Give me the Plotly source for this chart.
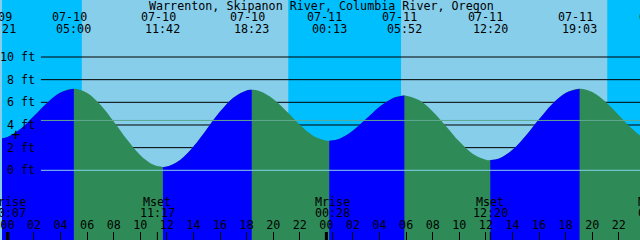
import plotly.graph_objects as go
from datetime import datetime

TITLE = "Warrenton, Skipanon River, Columbia River, Oregon"
BASE = datetime(2024, 7, 10)

# Tide extremes (date, time, height ft)
ext_dates = ["07-09", "07-10", "07-10", "07-10", "07-11", "07-11", "07-11", "07-11", "07-12"]
ext_times = ["23:21", "05:00", "11:42", "18:23", "00:13", "05:52", "12:20", "19:03", "01:12"]
ext_heights = [2.8, 7.2, 0.3, 7.1, 2.6, 6.6, 0.9, 7.2, 2.4]

# Hourly tide heights (ft), hours since 07-10 00:00
hour_t = list(range(0, 49))
hour_h = [2.94, 3.66, 4.79, 5.97, 6.87, 7.20, 6.83, 5.79, 4.31, 2.71,
          1.34, 0.48, 0.33, 0.92, 2.10, 3.63, 5.18, 6.41, 7.05, 6.98,
          6.30, 5.21, 4.02, 3.06, 2.62, 2.79, 3.51, 4.55, 5.62, 6.37,
          6.59, 6.18, 5.20, 3.89, 2.54, 1.47, 0.94, 1.05, 1.81, 3.05,
          4.50, 5.86, 6.83, 7.20, 6.91, 6.06, 4.87, 3.67, 2.77]

# Sun events (night shading)
sun_events = [("07-10", "05:36", "rise"), ("07-10", "21:08", "set"),
              ("07-11", "05:37", "rise"), ("07-11", "21:08", "set")]

# Moon events
moon_dates = ["07-10", "07-10", "07-11", "07-11", "07-12"]
moon_times = ["00:07", "11:17", "00:28", "12:20", "00:45"]
moon_names = ["Mrise", "Mset", "Mrise", "Mset", "Mrise"]

height_ticks = [0, 2, 4, 6, 8, 10]
grid_levels = [2, 4, 6, 8, 10]
datum_level = 0
mean_level = 4.4

# Colours
DAY = "#87CEEB"
NIGHT = "#00BFFF"
RISE = "#0000FF"
FALL = "#2E8B57"
MEAN_C = "#5FA890"
FONT = "DejaVu Sans Mono"
FS = 11.7

X_RANGE = [-0.405, 47.595]
Y_RANGE = [-6.15, 15.03]
W, H = 640, 240


def hrs(d, hm):
    mo, da = map(int, d.split("-"))
    h, m = map(int, hm.split(":"))
    return (datetime(2024, mo, da, h, m) - BASE).total_seconds() / 3600.0


def xp(t):
    """data hours -> paper fraction (same linear scale as the x axis)"""
    return (t - X_RANGE[0]) / (X_RANGE[1] - X_RANGE[0])


def py(px):
    return 1 - px / H


ext_t = [hrs(d, t) for d, t in zip(ext_dates, ext_times)]
pts = list(zip(ext_t, ext_heights))
for t, h in zip(hour_t, hour_h):
    if min(abs(t - e) for e in ext_t) > 0.1:
        pts.append((t, h))
pts.sort()

fig = go.Figure()
bottom = Y_RANGE[0] - 1
# whole water body in the falling colour, then rising stretches on top
fig.add_trace(go.Scatter(x=[pts[0][0], pts[-1][0]], y=[bottom, bottom], mode="lines",
                         line=dict(width=0, color=FALL), hoverinfo="skip"))
fig.add_trace(go.Scatter(x=[p[0] for p in pts], y=[p[1] for p in pts], mode="lines",
                         line=dict(width=0, color=FALL, shape="spline", smoothing=1.0),
                         fill="tonexty", fillcolor=FALL, hoverinfo="skip"))
for i in range(len(ext_t) - 1):
    t0, t1 = ext_t[i], ext_t[i + 1]
    if ext_heights[i + 1] <= ext_heights[i]:
        continue
    seg = [p for p in pts if t0 - 1e-9 <= p[0] <= t1 + 1e-9]
    fig.add_trace(go.Scatter(x=[t0, t1], y=[bottom, bottom], mode="lines",
                             line=dict(width=0, color=RISE), hoverinfo="skip"))
    fig.add_trace(go.Scatter(x=[p[0] for p in seg], y=[p[1] for p in seg],
                             mode="lines", line=dict(width=0, color=RISE, shape="spline", smoothing=1.0),
                             fill="tonexty", fillcolor=RISE, hoverinfo="skip"))

shapes = []
sun_t = [(hrs(d, t), k) for d, t, k in sun_events]
edges = [X_RANGE[0] - 5] + [t for t, _ in sun_t] + [X_RANGE[1] + 5]
for a, b in zip(edges[0::2], edges[1::2]):
    shapes.append(dict(type="rect", xref="x", yref="paper", x0=a, x1=b, y0=0, y1=1,
                       fillcolor=NIGHT, line=dict(width=0), layer="below"))
for lv in grid_levels:
    shapes.append(dict(type="line", xref="paper", yref="y", x0=39 / W, x1=1, y0=lv, y1=lv,
                       line=dict(color="black", width=1), layer="below"))
shapes.append(dict(type="line", xref="paper", yref="y", x0=39 / W, x1=1, y0=datum_level, y1=datum_level,
                   line=dict(color=DAY, width=1), layer="above"))
shapes.append(dict(type="line", xref="paper", yref="y", x0=39 / W, x1=1, y0=mean_level, y1=mean_level,
                   line=dict(color=MEAN_C, width=1), layer="above"))
for d in [0, 24]:
    shapes.append(dict(type="line", xref="x", yref="paper", x0=d, x1=d, y0=0, y1=8 / H,
                       line=dict(color="black", width=3), layer="above"))
moon_t = [hrs(d, t) for d, t in zip(moon_dates, moon_times)]
for mt in moon_t:
    if X_RANGE[0] < mt < X_RANGE[1]:
        shapes.append(dict(type="line", xref="x", yref="paper", x0=mt, x1=mt, y0=0, y1=8 / H,
                           line=dict(color="black", width=1), layer="above"))

ann = []
font = dict(family=FONT, size=FS, color="black")

ann.append(dict(text=TITLE, xref="paper", yref="paper", x=0.5, y=py(6), xanchor="center",
                yanchor="middle", showarrow=False, font=font))
for t, d, tm in zip(ext_t, ext_dates, ext_times):
    ann.append(dict(text=d, xref="paper", yref="paper", x=xp(t), xshift=-4.5, y=py(17),
                    xanchor="center", yanchor="middle", showarrow=False, font=font))
    ann.append(dict(text=tm, xref="paper", yref="paper", x=xp(t), y=py(29), xanchor="center",
                    yanchor="middle", showarrow=False, font=font))
for lv in height_ticks:
    ann.append(dict(text=f"{lv} ft", xref="paper", yref="y", x=35.5 / W, y=lv, xanchor="right",
                    yanchor="middle", showarrow=False, font=font))
for t, nm, tm in zip(moon_t, moon_names, moon_times):
    ann.append(dict(text=nm, xref="paper", yref="paper", x=xp(t), y=py(201.5), xanchor="center",
                    yanchor="middle", showarrow=False, font=font))
    ann.append(dict(text=tm, xref="paper", yref="paper", x=xp(t), y=py(213), xanchor="center",
                    yanchor="middle", showarrow=False, font=font))
ann.append(dict(text="+", xref="paper", yref="paper", x=14.5 / W, y=py(134), xanchor="center",
                yanchor="middle", showarrow=False, font=dict(family=FONT, size=16, color="black")))

tickvals = list(range(0, 49, 2))
ticktext = [f"{v % 24:02d}" for v in tickvals]

fig.update_layout(
    width=W, height=H, margin=dict(l=0, r=0, t=0, b=0),
    plot_bgcolor=DAY, paper_bgcolor=DAY, showlegend=False,
    shapes=shapes, annotations=ann,
    xaxis=dict(range=X_RANGE, tickvals=tickvals, ticktext=ticktext, ticks="inside",
               ticklen=8, tickcolor="black", tickwidth=1, ticklabelposition="inside",
               ticklabeloverflow="allow", tickfont=font, showgrid=False, zeroline=False,
               showline=False, fixedrange=True),
    yaxis=dict(range=Y_RANGE, visible=False, fixedrange=True),
)

fig.write_html("out.html")
